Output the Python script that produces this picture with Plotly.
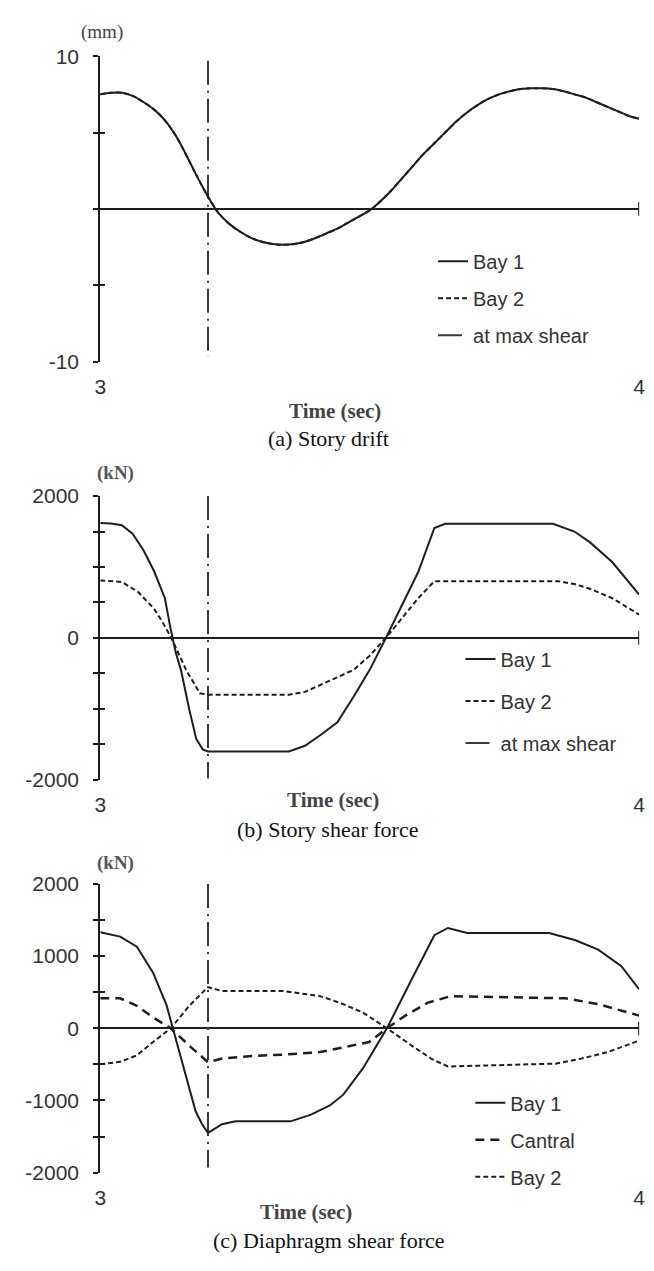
import plotly.graph_objects as go

# ---------------- data ----------------
x_range = [3, 4]
x_tick_vals = [3, 4]
x_tick_text = ["3", "4"]
t_max_shear = 3.2

# (a) Story drift (mm)
t_drift = [3.00, 3.02, 3.04, 3.06, 3.08, 3.10, 3.12, 3.14, 3.16, 3.18, 3.20,
           3.22, 3.24, 3.26, 3.28, 3.30, 3.32, 3.34, 3.36, 3.38, 3.40, 3.42,
           3.44, 3.46, 3.48, 3.50, 3.52, 3.54, 3.56, 3.58, 3.60, 3.62, 3.64,
           3.66, 3.68, 3.70, 3.72, 3.74, 3.76, 3.78, 3.80, 3.82, 3.84, 3.86,
           3.88, 3.90, 3.92, 3.94, 3.96, 3.98, 4.00]
drift_bay1 = [7.5, 7.6, 7.6, 7.4, 7.0, 6.5, 5.8, 4.8, 3.5, 2.1, 0.8,
              -0.3, -1.0, -1.5, -1.9, -2.15, -2.3, -2.35, -2.3, -2.15, -1.9, -1.6,
              -1.3, -0.9, -0.5, -0.1, 0.5, 1.2, 2.0, 2.8, 3.6, 4.3, 5.0,
              5.7, 6.3, 6.8, 7.2, 7.5, 7.7, 7.85, 7.9, 7.9, 7.85, 7.7,
              7.5, 7.3, 7.0, 6.7, 6.4, 6.1, 5.9]
drift_bay2 = [7.5, 7.6, 7.6, 7.4, 7.0, 6.5, 5.8, 4.8, 3.5, 2.1, 0.8,
              -0.3, -1.0, -1.5, -1.9, -2.15, -2.3, -2.35, -2.3, -2.15, -1.9, -1.6,
              -1.3, -0.9, -0.5, -0.1, 0.5, 1.2, 2.0, 2.8, 3.6, 4.3, 5.0,
              5.7, 6.3, 6.8, 7.2, 7.5, 7.7, 7.85, 7.9, 7.9, 7.85, 7.7,
              7.5, 7.3, 7.0, 6.7, 6.4, 6.1, 5.9]
vline_drift = [9.7, -9.7]

# (b) Story shear force (kN)
t_shear_bay1 = [3.00, 3.02, 3.04, 3.06, 3.08, 3.10, 3.12, 3.13, 3.14, 3.15,
                3.165, 3.178, 3.19, 3.20, 3.35, 3.38, 3.41, 3.44, 3.47, 3.50,
                3.53, 3.56, 3.59, 3.62, 3.64, 3.84, 3.88, 3.91, 3.95, 4.00]
shear_bay1 = [1620, 1615, 1590, 1470, 1240, 940, 560, 150, -200, -460,
              -1000, -1420, -1570, -1600, -1600, -1520, -1360, -1190, -830, -450,
              0, 470, 930, 1550, 1610, 1610, 1500, 1340, 1070, 610]
t_shear_bay2 = [3.00, 3.04, 3.07, 3.10, 3.115, 3.132, 3.16, 3.185, 3.20, 3.35,
                3.38, 3.41, 3.44, 3.47, 3.50, 3.53, 3.56, 3.59, 3.62, 3.85,
                3.88, 3.91, 3.95, 4.00]
shear_bay2 = [810, 790, 650, 410, 230, 0, -460, -780, -800, -800,
              -760, -660, -560, -450, -250, 0, 280, 560, 800, 800,
              760, 690, 560, 330]
vline_shear = [2000, -1980]

# (c) Diaphragm shear force (kN)
t_dia_bay1 = [3.00, 3.037, 3.068, 3.098, 3.123, 3.135, 3.153, 3.177, 3.189, 3.20,
              3.226, 3.251, 3.353, 3.39, 3.426, 3.451, 3.487, 3.532, 3.578, 3.62,
              3.645, 3.681, 3.833, 3.882, 3.924, 3.967, 4.00]
dia_bay1 = [1330, 1270, 1130, 770, 320, 0, -510, -1150, -1330, -1450,
            -1330, -1290, -1290, -1200, -1070, -920, -560, 0, 680, 1290,
            1390, 1320, 1320, 1220, 1090, 860, 540]
t_dia_central = [3.00, 3.037, 3.068, 3.098, 3.131, 3.165, 3.20, 3.226, 3.281, 3.341,
                 3.408, 3.469, 3.499, 3.532, 3.566, 3.608, 3.65, 3.863, 3.924, 4.00]
dia_central = [415, 415, 310, 150, 0, -240, -470, -420, -385, -365,
               -330, -240, -190, 0, 175, 355, 445, 415, 335, 175]
t_dia_bay2 = [3.00, 3.037, 3.068, 3.098, 3.131, 3.165, 3.189, 3.20, 3.226, 3.341,
              3.408, 3.444, 3.487, 3.532, 3.578, 3.614, 3.645, 3.845, 3.893, 3.942,
              4.00]
dia_bay2 = [-500, -465, -375, -190, 0, 310, 490, 570, 515, 515,
            445, 355, 220, 0, -240, -420, -530, -490, -420, -330,
            -170]
vline_dia = [2000, -1930]

# ---------------- layout helpers ----------------
W, H = 654, 1271
def fx(px):
    return px / W
def fy(py):
    return 1 - py / H

X_LEFT, X_RIGHT = 96, 645
LINE = "#1e1e1e"
SANS = "Liberation Sans, Arial, sans-serif"
SERIF = "Liberation Serif, Times New Roman, serif"

panels = [
    dict(top=45, bottom=356, rng=[-10, 10], ticks=[-10, -5, 0, 5, 10],
         ticktext=["-10", "", "", "", "10"]),
    dict(top=493, bottom=782, rng=[-2000, 2000],
         ticks=[-2000, -1500, -1000, -500, 0, 500, 1000, 1500, 2000],
         ticktext=["-2000", "", "", "", "0", "", "", "", "2000"]),
    dict(top=888, bottom=1182, rng=[-2000, 2000],
         ticks=[-2000, -1500, -1000, -500, 0, 500, 1000, 1500, 2000],
         ticktext=["-2000", "", "-1000", "", "0", "", "1000", "", "2000"]),
]

fig = go.Figure()

style_bay1 = dict(color=LINE, width=2)
style_bay2 = dict(color=LINE, width=2, dash="5px,3px")
style_central = dict(color=LINE, width=2.5, dash="9px,6px")
style_vline = dict(color="#3a3a3a", width=2, dash="24px,6px,2px,6px")

# (a)
fig.add_trace(go.Scatter(x=[t_max_shear, t_max_shear], y=vline_drift, mode="lines",
                         line=style_vline, name="at max shear", legendrank=3,
                         legendgroup="a3", legend="legend", xaxis="x", yaxis="y"))
fig.add_trace(go.Scatter(x=t_drift, y=drift_bay2, mode="lines", line=style_bay2,
                         line_shape="spline", name="Bay 2", legendrank=2,
                         legendgroup="a2", legend="legend", xaxis="x", yaxis="y"))
fig.add_trace(go.Scatter(x=t_drift, y=drift_bay1, mode="lines", line=style_bay1,
                         line_shape="spline", name="Bay 1", legendrank=1,
                         legendgroup="a1", legend="legend", xaxis="x", yaxis="y"))
# (b)
fig.add_trace(go.Scatter(x=[t_max_shear, t_max_shear], y=vline_shear, mode="lines",
                         line=style_vline, name="at max shear", legendrank=3,
                         legendgroup="b3", legend="legend2", xaxis="x2", yaxis="y2"))
fig.add_trace(go.Scatter(x=t_shear_bay2, y=shear_bay2, mode="lines", line=style_bay2,
                         name="Bay 2", legendrank=2,
                         legendgroup="b2", legend="legend2", xaxis="x2", yaxis="y2"))
fig.add_trace(go.Scatter(x=t_shear_bay1, y=shear_bay1, mode="lines", line=style_bay1,
                         name="Bay 1", legendrank=1,
                         legendgroup="b1", legend="legend2", xaxis="x2", yaxis="y2"))
# (c)
fig.add_trace(go.Scatter(x=[t_max_shear, t_max_shear], y=vline_dia, mode="lines",
                         line=style_vline, name="at max shear", showlegend=False,
                         xaxis="x3", yaxis="y3"))
fig.add_trace(go.Scatter(x=t_dia_bay2, y=dia_bay2, mode="lines", line=style_bay2,
                         name="Bay 2", legendrank=3,
                         legendgroup="c3", legend="legend3", xaxis="x3", yaxis="y3"))
fig.add_trace(go.Scatter(x=t_dia_central, y=dia_central, mode="lines", line=style_central,
                         name="Cantral", legendrank=2,
                         legendgroup="c2", legend="legend3", xaxis="x3", yaxis="y3"))
fig.add_trace(go.Scatter(x=t_dia_bay1, y=dia_bay1, mode="lines", line=style_bay1,
                         name="Bay 1", legendrank=1,
                         legendgroup="c1", legend="legend3", xaxis="x3", yaxis="y3"))

# empty traces so that the overlay axes (inner halves of tick marks) get drawn
for i in range(3):
    n = "" if i == 0 else str(i + 1)
    fig.add_trace(go.Scatter(x=[], y=[], mode="lines", showlegend=False,
                             hoverinfo="skip", xaxis="x" + n, yaxis="y" + str(i + 4)))

layout = dict(width=W, height=H, margin=dict(l=0, r=0, t=0, b=0),
              paper_bgcolor="white", plot_bgcolor="white", showlegend=True)

for i, p in enumerate(panels):
    n = "" if i == 0 else str(i + 1)
    ydom = [fy(p["bottom"]), fy(p["top"])]
    layout["xaxis" + n] = dict(domain=[fx(X_LEFT), fx(X_RIGHT)], range=x_range,
                               anchor="y" + n, showline=False, showgrid=False,
                               zeroline=False, ticks="", tickvals=x_tick_vals,
                               ticktext=x_tick_text, ticklabelstandoff=10,
                               tickfont=dict(family=SANS, size=21, color="#333"))
    layout["yaxis" + n] = dict(domain=ydom, range=p["rng"], anchor="x" + n,
                               showline=True, linecolor=LINE, linewidth=2,
                               showgrid=False, zeroline=True, zerolinecolor=LINE,
                               zerolinewidth=2, ticks="outside", ticklen=5,
                               tickwidth=2, tickcolor=LINE, tickvals=p["ticks"],
                               ticktext=p["ticktext"], ticklabelstandoff=10,
                               tickfont=dict(family=SANS, size=21, color="#333"))
    # overlay axis giving the inner half of the crossing tick marks
    layout["yaxis" + str(i + 4)] = dict(overlaying="y" + n, anchor="x" + n,
                                        range=p["rng"], showline=False, showgrid=False,
                                        zeroline=False, ticks="inside", ticklen=5,
                                        tickwidth=2, tickcolor=LINE,
                                        tickvals=p["ticks"], showticklabels=False)

legend_common = dict(xanchor="left", yanchor="top", bgcolor="rgba(0,0,0,0)",
                     font=dict(family=SANS, size=20, color="#333"), itemclick=False)
layout["legend"] = dict(legend_common, x=fx(435), y=fy(234), tracegroupgap=8)
layout["legend2"] = dict(legend_common, x=fx(463), y=fy(639), tracegroupgap=13)
layout["legend3"] = dict(legend_common, x=fx(473), y=fy(1091), tracegroupgap=8)

fig.update_layout(**layout)

# end tick of the time axis on the zero line
for i, p in enumerate(panels):
    n = "" if i == 0 else str(i + 1)
    half = 7 / (p["bottom"] - p["top"])
    fig.add_shape(type="line", xref="x" + n, yref="y" + n + " domain",
                  x0=x_range[1], x1=x_range[1], y0=0.5 - half, y1=0.5 + half,
                  line=dict(color=LINE, width=2))

# unit labels, axis titles and captions
units = [("(mm)", 98, 20, "normal", "#444"),
         ("(kN)", 112, 469, "bold", "#555"),
         ("(kN)", 112, 867, "bold", "#555")]
for txt, px, py, wt, col in units:
    fig.add_annotation(text=txt, x=fx(px), y=fy(py), xref="paper", yref="paper",
                       showarrow=False, xanchor="center", yanchor="middle",
                       font=dict(family=SERIF, size=19, color=col, weight=wt))

time_titles = [(335, 406), (333, 803), (306, 1222)]
for px, py in time_titles:
    fig.add_annotation(text="Time (sec)", x=fx(px), y=fy(py), xref="paper", yref="paper",
                       showarrow=False, xanchor="center", yanchor="middle",
                       font=dict(family=SERIF, size=21, color="#444", weight="bold"))

captions = [("(a) Story drift", 329, 434), ("(b) Story shear force", 328, 833),
            ("(c) Diaphragm shear force", 329, 1251)]
for txt, px, py in captions:
    fig.add_annotation(text=txt, x=fx(px), y=fy(py), xref="paper", yref="paper",
                       showarrow=False, xanchor="center", yanchor="middle",
                       font=dict(family=SERIF, size=22, color="#111"))

fig.write_html("out.html")
